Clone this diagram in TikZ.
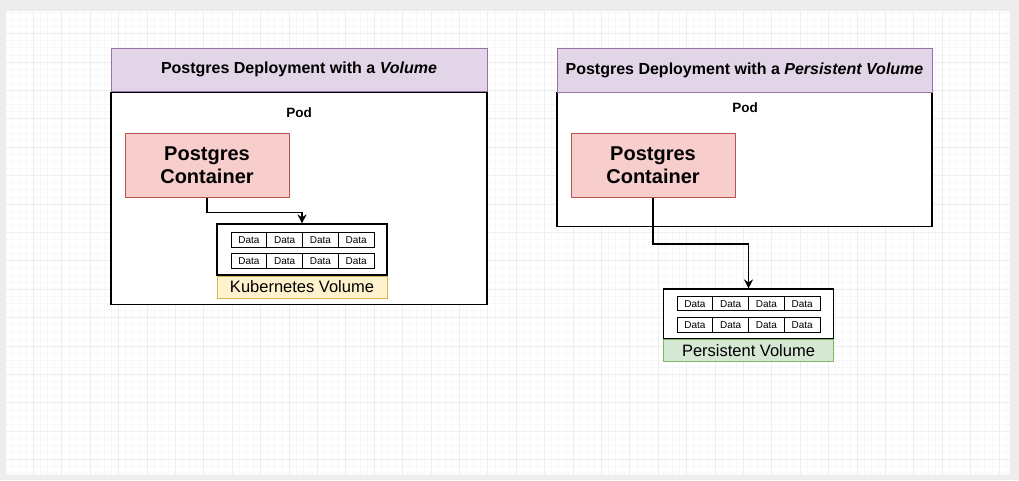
\documentclass[tikz,border=0pt]{standalone}
\usepackage{fontspec}
\setmainfont{Liberation Sans}
\usetikzlibrary{arrows.meta}

\definecolor{hdrfill}{HTML}{E1D5E7}
\definecolor{hdrline}{HTML}{9673A6}
\definecolor{ctfill}{HTML}{F8CECC}
\definecolor{ctline}{HTML}{B85450}
\definecolor{kvfill}{HTML}{FFF2CC}
\definecolor{kvline}{HTML}{D6B656}
\definecolor{pvfill}{HTML}{D5E8D4}
\definecolor{pvline}{HTML}{82B366}

\tikzset{
    gridminor/.style={draw=black!3, line width=0.5pt},
    gridmajor/.style={draw=black!7, line width=0.6pt},
    header/.style={draw=hdrline, fill=hdrfill, line width=1pt, minimum width=376, minimum height=43.5, inner sep=0pt, font=\bfseries\fontsize{16}{19}\selectfont},
    podbox/.style={draw=black, fill=white, line width=1.3pt, minimum width=376, inner sep=0pt},
    podlabel/.style={font=\bfseries\fontsize{13.5}{16}\selectfont, inner sep=0pt},
    contbox/.style={draw=ctline, fill=ctfill, line width=1pt, minimum width=164, minimum height=64, align=center, inner sep=0pt, font=\bfseries\fontsize{20}{23}\selectfont},
    volbox/.style={draw=black, fill=white, line width=1.1pt, minimum width=170, minimum height=51, inner sep=0pt},
    vollabel/.style={line width=1pt, minimum width=170, minimum height=22, inner sep=0pt, font=\fontsize{16.5}{19}\selectfont},
    datacell/.style={draw=black, line width=1pt, minimum width=35.75, minimum height=14.5, inner sep=0pt, font=\fontsize{10}{12}\selectfont},
    link/.style={draw=black, line width=1.8pt, -{Stealth[length=9pt,width=9pt]}}
}

\begin{document}
\begin{tikzpicture}[x=1pt,y=-1pt]
    \useasboundingbox (0,0) rectangle (1019,480);

    % canvas and grid
    \fill[black!7] (0,0) rectangle (1019,480);
    \fill[white] (6,11) rectangle (1010,475);
    \begin{scope}
        \clip (6,11) rectangle (1010,475);
        \foreach \i in {0,...,142} \draw[gridminor] (4.9+7.1*\i,11) -- (4.9+7.1*\i,475);
        \foreach \i in {0,...,66} \draw[gridminor] (6,5.1+7.1*\i) -- (1010,5.1+7.1*\i);
        \foreach \i in {0,...,35} \draw[gridmajor] (4.9+28.4*\i,11) -- (4.9+28.4*\i,475);
        \foreach \i in {0,...,16} \draw[gridmajor] (6,5.1+28.4*\i) -- (1010,5.1+28.4*\i);
    \end{scope}

    % left: deployment with a volume
    \node[podbox, minimum height=212, anchor=north] (podL) at (299,91.5) {};
    \node[header] (hdrL) at (299,69.75) {Postgres Deployment with a \textit{Volume}};
    \node[podlabel] (podlblL) at (299,112.5) {Pod};
    \node[contbox] (contL) at (207,165) {Postgres\\Container};

    \node[volbox] (volL) at (302,249.5) {};
    \node[vollabel, draw=kvline, fill=kvfill, anchor=north] (vlblL) at (volL.south) {Kubernetes Volume};
    \foreach \r/\y in {1/240,2/261}
        \foreach \c in {1,...,4}
            \node[datacell] (dL\r\c) at (231+35.75*\c-17.875,\y) {Data};

    \draw[link] (contL.south) -- ++(0,15) -| (volL.north);

    % right: deployment with a persistent volume
    \node[podbox, minimum width=375, minimum height=134, anchor=north] (podR) at (744.5,91.5) {};
    \node[header, minimum width=375] (hdrR) at (744.5,70.25) {Postgres Deployment with a \textit{Persistent Volume}};
    \node[podlabel] (podlblR) at (745,107.5) {Pod};
    \node[contbox] (contR) at (653,165.5) {Postgres\\Container};

    \node[volbox, minimum height=49.5] (volR) at (748.5,313.75) {};
    \node[vollabel, draw=pvline, fill=pvfill, anchor=north] (vlblR) at (volR.south) {Persistent Volume};
    \foreach \r/\y in {1/303.7,2/324.8}
        \foreach \c in {1,...,4}
            \node[datacell] (dR\r\c) at (677+35.75*\c-17.875,\y) {Data};

    \draw[link] (contR.south) -- ++(0,46) -| (volR.north);
\end{tikzpicture}
\end{document}
